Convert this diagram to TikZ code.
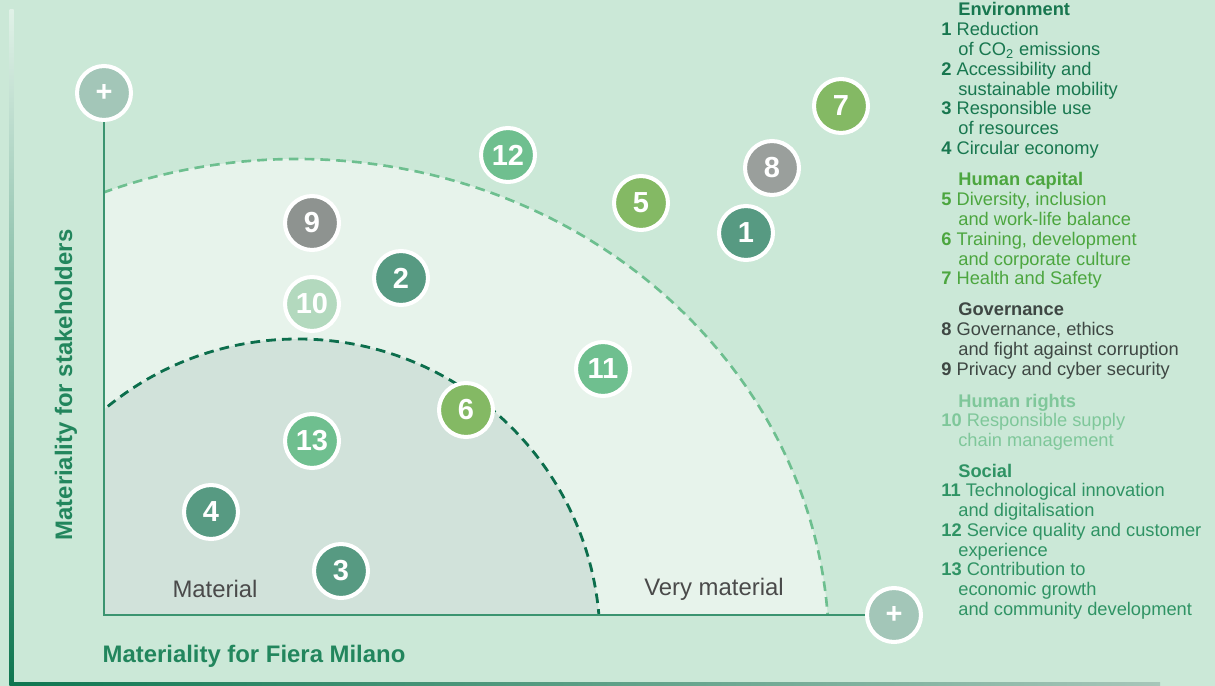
\documentclass[tikz,border=0pt]{standalone}
\usepackage{fontspec}
\setmainfont{Liberation Sans}
\usetikzlibrary{positioning}

\definecolor{bgc}{RGB}{203,232,215}
\definecolor{midc}{RGB}{231,243,235}
\definecolor{innc}{RGB}{209,226,218}
\definecolor{axisc}{RGB}{59,148,112}
\definecolor{darkdash}{RGB}{12,110,76}
\definecolor{lightdash}{RGB}{109,191,143}
\definecolor{envc}{RGB}{87,154,130}
\definecolor{hcc}{RGB}{132,185,100}
\definecolor{govA}{RGB}{154,159,156}
\definecolor{govB}{RGB}{142,147,144}
\definecolor{hrc}{RGB}{179,217,190}
\definecolor{socc}{RGB}{111,191,143}
\definecolor{plusc}{RGB}{163,198,184}
\definecolor{envtext}{RGB}{24,119,79}
\definecolor{hctext}{RGB}{76,166,63}
\definecolor{govtext}{RGB}{62,71,67}
\definecolor{hrtext}{RGB}{127,199,154}
\definecolor{soctext}{RGB}{47,147,100}
\definecolor{labelgray}{RGB}{74,74,74}
\definecolor{titlec}{RGB}{34,134,93}
\definecolor{borderdark}{RGB}{14,118,80}
\definecolor{borderlight}{RGB}{167,198,185}

\newlength{\legind}\setlength{\legind}{0.34cm}
\newcommand{\legitem}[2]{\par\hangindent=\legind\hangafter=1\noindent\textbf{#1}~#2}
\newcommand{\leghead}[1]{\noindent\hspace*{\legind}\textbf{#1}}

\tikzset{
  ball/.style={circle, draw=white, line width=2.3pt, minimum size=1.08cm, inner sep=0pt,
    text=white, font=\fontsize{16.5}{16.5}\selectfont\bfseries},
  plusball/.style={ball, fill=plusc},
  legtext/.style={anchor=base west, inner sep=0pt, font=\fontsize{10.4}{11.25}\selectfont},
  zone/.style={text=labelgray, font=\fontsize{13.6}{14}\selectfont},
  axtitle/.style={text=titlec, font=\fontsize{13.6}{14}\selectfont\bfseries},
  axisline/.style={draw=axisc, line width=0.7pt},
}

\begin{document}
\begin{tikzpicture}[x=0.02cm,y=-0.02cm]
  % Background and frame
  \useasboundingbox (0,0) rectangle (1215,686);
  \fill[bgc] (0,0) rectangle (1215,686);
  \shade[top color=bgc!60!white, bottom color=borderdark] (9.5,10) rectangle (13.5,686);
  \shade[left color=borderdark, right color=borderlight] (9.5,682) rectangle (1160,686);

  % Materiality zones
  \begin{scope}
    \clip (104,0) rectangle (1215,615);
    \fill[midc] (297,650) ellipse [x radius=532, y radius=491];
    \fill[innc] (298,641) circle [radius=302];
    \draw[lightdash, line width=1.5pt, dash pattern=on 5.5pt off 3.5pt] (297,650) ellipse [x radius=532, y radius=491];
    \draw[darkdash, line width=1.6pt, dash pattern=on 5.5pt off 3.5pt] (298,641) circle [radius=302];
  \end{scope}

  % Axes
  \node[plusball] (ymax) at (104,93) {+};
  \node[plusball] (xmax) at (894,615) {+};
  \coordinate (origin) at (104,615);
  \draw[axisline] (ymax) -- (origin) -- (xmax);

  \node[zone] (material) at (215,589) {Material};
  \node[zone] (verymaterial) at (714,589) {Very material};
  \node[axtitle] (xtitle) at (254,656) {Materiality for Fiera Milano};
  \node[axtitle, rotate=90] (ytitle) at (66,385) {Materiality for stakeholders};

  % Topics
  \node[ball, fill=envc] (t1) at (746,233) {1};
  \node[ball, fill=envc] (t2) at (401,278) {2};
  \node[ball, fill=envc] (t3) at (341,571) {3};
  \node[ball, fill=envc] (t4) at (211,512) {4};
  \node[ball, fill=hcc] (t5) at (641,203) {5};
  \node[ball, fill=hcc] (t6) at (466,410) {6};
  \node[ball, fill=hcc] (t7) at (841,106) {7};
  \node[ball, fill=govA] (t8) at (772,168) {8};
  \node[ball, fill=govB] (t9) at (312,223) {9};
  \node[ball, fill=hrc] (t10) at (312,304) {10};
  \node[ball, fill=socc] (t11) at (603,369) {11};
  \node[ball, fill=socc] (t12) at (508,155) {12};
  \node[ball, fill=socc] (t13) at (312,441) {13};

  % Legend
  \node[legtext, text=envtext] (env) at (941,16) {\parbox[t]{6cm}{
    \leghead{Environment}
    \legitem{1}{Reduction\\of CO\textsubscript{2} emissions}
    \legitem{2}{Accessibility and\\sustainable mobility}
    \legitem{3}{Responsible use\\of resources}
    \legitem{4}{Circular economy}}};
  \node[legtext, text=hctext] (hcap) at (941,186) {\parbox[t]{6cm}{
    \leghead{Human capital}
    \legitem{5}{Diversity, inclusion\\and work-life balance}
    \legitem{6}{Training, development\\and corporate culture}
    \legitem{7}{Health and Safety}}};
  \node[legtext, text=govtext] (gov) at (941,316) {\parbox[t]{6cm}{
    \leghead{Governance}
    \legitem{8}{Governance, ethics\\and fight against corruption}
    \legitem{9}{Privacy and cyber security}}};
  \node[legtext, text=hrtext] (hrights) at (941,407) {\parbox[t]{6cm}{
    \leghead{Human rights}
    \legitem{10}{Responsible supply\\chain management}}};
  \node[legtext, text=soctext] (social) at (941,477) {\parbox[t]{6cm}{
    \leghead{Social}
    \legitem{11}{Technological innovation\\and digitalisation}
    \legitem{12}{Service quality and customer\\experience}
    \legitem{13}{Contribution to\\economic growth\\and community development}}};
\end{tikzpicture}
\end{document}
